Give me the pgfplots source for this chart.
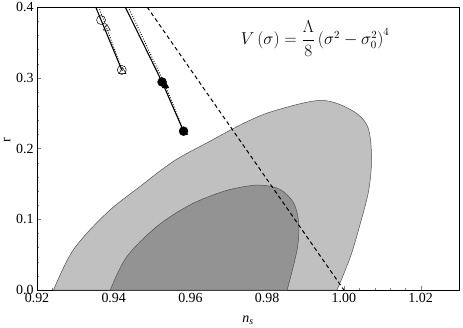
\documentclass[border=0pt]{standalone}
\usepackage[no-math]{fontspec}
\setmainfont{Liberation Serif}
\usepackage{pgfplots}
\pgfplotsset{compat=1.18}
\usepackage{amsmath}
\definecolor{outerGrey}{HTML}{C0C0C0}
\definecolor{innerGrey}{HTML}{939393}
\definecolor{edgeGrey}{HTML}{505050}

\begin{document}
\begin{tikzpicture}
\begin{axis}[
    at={(0,0)}, anchor=south west,
    scale only axis, width=422bp, height=283bp,
    xmin=0.92, xmax=1.03, ymin=0, ymax=0.4,
    xtick={0.92,0.94,...,1.02}, ytick={0,0.1,...,0.4},
    minor x tick num=4, minor y tick num=4,
    xtick pos=bottom, ytick pos=left, tick align=inside,
    major tick length=4bp, minor tick length=2.5bp,
    axis line style={line width=0.9pt},
    /pgf/number format/assume math mode=true,
    xticklabel style={/pgf/number format/.cd, fixed, fixed zerofill, precision=2},
    yticklabel style={/pgf/number format/.cd, fixed, fixed zerofill, precision=1},
    tick label style={font=\fontsize{14}{16}\selectfont},
    xlabel={\itshape n\textsubscript{s}},
    ylabel={r},
    every axis x label/.style={at={(axis description cs:0.5,0)}, anchor=center, yshift=-30bp, font=\fontsize{14}{16}\selectfont},
    every axis y label/.style={at={(axis description cs:-0.071,0.53)}, anchor=center, rotate=90, font=\fontsize{14}{16}\selectfont},
    clip=true,
]
% 95% region
\addplot[fill=outerGrey, draw=edgeGrey, line width=0.5pt, smooth, tension=0.55] coordinates {
    (0.9243,0) (0.9295,0.057) (0.9382,0.109) (0.9469,0.1465) (0.9556,0.182)
    (0.9643,0.208) (0.9740,0.236) (0.9817,0.253) (0.9939,0.268) (1.0017,0.255)
    (1.0061,0.232) (1.0072,0.189) (1.0065,0.142) (1.0043,0.0946) (1.0017,0.047)
    (0.9982,0)
} -- cycle;
% 68% region
\addplot[fill=innerGrey, draw=edgeGrey, line width=0.5pt, smooth, tension=0.55] coordinates {
    (0.9391,0) (0.9434,0.047) (0.9513,0.090) (0.9600,0.1206) (0.9686,0.1394)
    (0.9750,0.147) (0.9790,0.148) (0.9834,0.142) (0.9869,0.123) (0.9882,0.0946)
    (0.9878,0.057) (0.9852,0)
} -- cycle;
% dashed line
\addplot[black, line width=1pt, dash pattern=on 4pt off 3pt] coordinates {(0.9487,0.4) (1.0,0)};
% open markers
\addplot[black, line width=1.1pt] coordinates {(0.9353,0.4) (0.9367,0.3816) (0.9421,0.311)};
\addplot[black, line width=0.9pt, dash pattern=on 0.9pt off 1.6pt] coordinates {(0.9361,0.4) (0.9382,0.370) (0.9423,0.3088)};
\addplot[only marks, mark=o, mark size=4.5pt, mark options={line width=0.5pt, fill=none}] coordinates {(0.9367,0.3816) (0.9421,0.311)};
\addplot[only marks, mark=triangle, mark size=4pt, mark options={line width=0.5pt, fill=none}] coordinates {(0.9382,0.370) (0.9423,0.3088)};
% filled markers
\addplot[black, line width=1.1pt] coordinates {(0.9430,0.4) (0.9526,0.294) (0.9582,0.2245)};
\addplot[black, line width=0.9pt, dash pattern=on 0.9pt off 1.6pt] coordinates {(0.9438,0.4) (0.9535,0.2884) (0.9584,0.2227)};
\addplot[only marks, mark=*, mark size=4.5pt, mark options={fill=black}] coordinates {(0.9526,0.294) (0.9582,0.2245)};
\addplot[only marks, mark=triangle*, mark size=4pt, mark options={fill=black}] coordinates {(0.9535,0.2884) (0.9584,0.2227)};
\node[font=\fontsize{16}{18}\selectfont] at (axis cs:0.9925,0.355) {$V\left(\sigma\right)=\dfrac{\Lambda}{8}\left(\sigma^2-\sigma_0^2\right)^4$};
\end{axis}
\pgfresetboundingbox
\path[use as bounding box] (-37bp,-38bp) rectangle (426bp,290bp);
\end{tikzpicture}
\end{document}
